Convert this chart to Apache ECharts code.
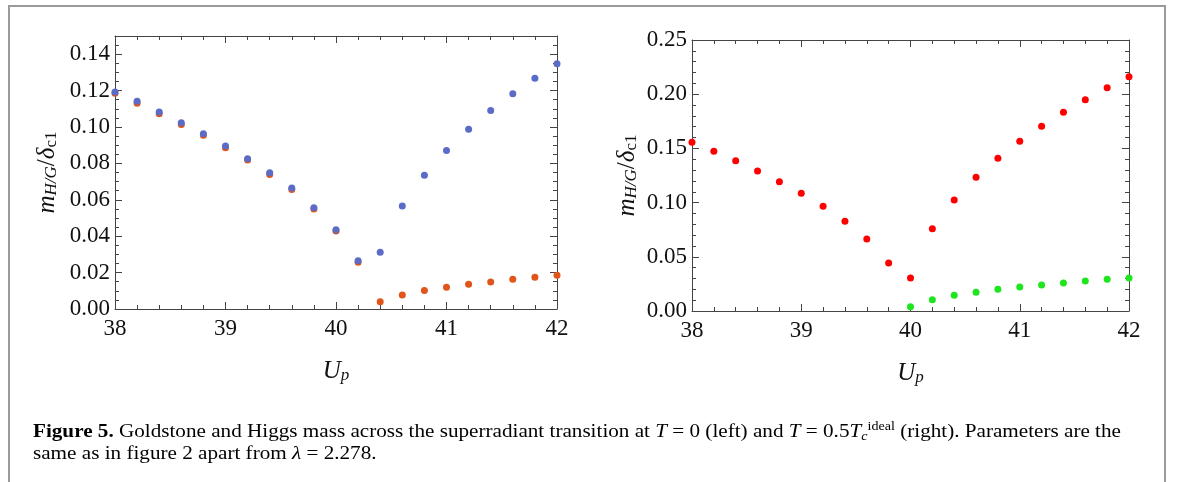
<!DOCTYPE html>
<html>
<head>
<meta charset="utf-8">
<script src="https://cdn.jsdelivr.net/npm/echarts@6/dist/echarts.min.js"></script>
<style>
  html, body { margin: 0; padding: 0; background: #fff; }
  #chart { width: 1182px; height: 482px; }
</style>
</head>
<body>
<div id="chart"></div>
<script>
// U_p values shared by both panels
var upValues = [38.0, 38.2, 38.4, 38.6, 38.8, 39.0, 39.2, 39.4, 39.6, 39.8, 40.0,
                40.2, 40.4, 40.6, 40.8, 41.0, 41.2, 41.4, 41.6, 41.8, 42.0];

// left panel, T = 0
var leftOrange = [0.1185, 0.1130, 0.1073, 0.1014, 0.0954, 0.0886, 0.0818, 0.0739, 0.0656, 0.0549, 0.0428,
                  0.0257, 0.0040, 0.0077, 0.0101, 0.0119, 0.0136, 0.0149, 0.0164, 0.0175, 0.0186];
var leftBlue = [0.1192, 0.1141, 0.1082, 0.1023, 0.0963, 0.0895, 0.0825, 0.0748, 0.0665, 0.0557, 0.0435,
                0.0265, 0.0312, 0.0566, 0.0735, 0.0871, 0.0987, 0.1090, 0.1183, 0.1268, 0.1347];

// right panel, T = 0.5 Tc
var rightRed = [0.1556, 0.1473, 0.1387, 0.1292, 0.1193, 0.1086, 0.0966, 0.0828, 0.0664, 0.0443, 0.0304,
                0.0759, 0.1024, 0.1233, 0.1409, 0.1565, 0.1704, 0.1833, 0.1949, 0.2060, 0.2162];
var greenUp = [40.0, 40.2, 40.4, 40.6, 40.8, 41.0, 41.2, 41.4, 41.6, 41.8, 42.0];
var rightGreen = [0.0040, 0.0104, 0.0145, 0.0172, 0.0200, 0.0221, 0.0240, 0.0258, 0.0277, 0.0292, 0.0304];

var xTicks = [38, 39, 40, 41, 42];
var leftYTicks = [0.00, 0.02, 0.04, 0.06, 0.08, 0.10, 0.12, 0.14];
var rightYTicks = [0.00, 0.05, 0.10, 0.15, 0.20, 0.25];

var serif = '"Liberation Serif", "DejaVu Serif", serif';
var frameColor = '#444';
var labelSize = 23;

function pairs(xs, ys) {
    var out = [];
    for (var i = 0; i < ys.length; i++) out.push([xs[i], ys[i]]);
    return out;
}

function near(v, list) {
    for (var i = 0; i < list.length; i++) {
        if (Math.abs(v - list[i]) < 1e-6) return true;
    }
    return false;
}

// one axis of the frame: major ticks (with or without labels) or minor ticks
function frameAxis(grid, pos, min, max, step, major, labels, tickList, digits) {
    var ax = {
        type: 'value',
        gridIndex: grid,
        position: pos,
        min: min,
        max: max,
        interval: step,
        splitLine: { show: false },
        axisLine: { show: major, onZero: false, lineStyle: { color: frameColor, width: 1 } },
        axisTick: { show: true, inside: true, length: major ? 7 : 4, lineStyle: { color: frameColor, width: 1 } },
        axisLabel: { show: false }
    };
    if (labels) {
        ax.axisLabel = {
            show: true,
            margin: (pos === 'bottom') ? 8 : 5,
            color: '#111',
            fontFamily: serif,
            fontSize: labelSize,
            formatter: function (v) {
                if (!near(v, tickList)) return '';
                return v.toFixed(digits);
            }
        };
    }
    return ax;
}

var xAxes = [];
var yAxes = [];
[0, 1].forEach(function (g) {
    xAxes.push(frameAxis(g, 'bottom', 38, 42, 1, true, true, xTicks, 0));
    xAxes.push(frameAxis(g, 'bottom', 38, 42, 0.2, false, false));
    xAxes.push(frameAxis(g, 'top', 38, 42, 1, true, false));
    xAxes.push(frameAxis(g, 'top', 38, 42, 0.2, false, false));
});
// left panel y
yAxes.push(frameAxis(0, 'left', 0, 0.15, 0.02, true, true, leftYTicks, 2));
yAxes.push(frameAxis(0, 'left', 0, 0.15, 0.005, false, false));
yAxes.push(frameAxis(0, 'right', 0, 0.15, 0.02, true, false));
yAxes.push(frameAxis(0, 'right', 0, 0.15, 0.005, false, false));
// right panel y
yAxes.push(frameAxis(1, 'left', 0, 0.25, 0.05, true, true, rightYTicks, 2));
yAxes.push(frameAxis(1, 'left', 0, 0.25, 0.01, false, false));
yAxes.push(frameAxis(1, 'right', 0, 0.25, 0.05, true, false));
yAxes.push(frameAxis(1, 'right', 0, 0.25, 0.01, false, false));

var xName = '{i|U}{s|p}';
var yName = '{i|m}{s|H/G}{n|/}{i|δ}{sr|c1}';
var mathRich = {
    i: { fontFamily: serif, fontStyle: 'italic', fontSize: 25, lineHeight: 28, verticalAlign: 'bottom', color: '#111' },
    n: { fontFamily: serif, fontSize: 25, lineHeight: 28, verticalAlign: 'bottom', color: '#111' },
    s: { fontFamily: serif, fontStyle: 'italic', fontSize: 17, lineHeight: 8, verticalAlign: 'bottom', color: '#111' },
    sr: { fontFamily: serif, fontSize: 17, lineHeight: 8, verticalAlign: 'bottom', color: '#111' }
};

function nameAxis(ax, gap, rotate) {
    ax.name = (rotate ? yName : xName);
    ax.nameLocation = 'middle';
    ax.nameGap = gap;
    if (rotate) ax.nameRotate = 90;
    ax.nameTextStyle = { rich: mathRich };
}
nameAxis(xAxes[0], 47, false);
nameAxis(xAxes[4], 47, false);
nameAxis(yAxes[0], 55, true);
nameAxis(yAxes[4], 52, true);

function dots(name, color, x, y, xi, yi) {
    return {
        name: name,
        type: 'scatter',
        xAxisIndex: xi,
        yAxisIndex: yi,
        symbol: 'circle',
        symbolSize: 7,
        itemStyle: { color: color, opacity: 1 },
        data: pairs(x, y)
    };
}

var capRich = {
    t: { fontFamily: serif, fontSize: 18, color: '#111', lineHeight: 22 },
    b: { fontFamily: serif, fontSize: 18, fontWeight: 'bold', color: '#111', lineHeight: 22 },
    i: { fontFamily: serif, fontSize: 18, fontStyle: 'italic', color: '#111', lineHeight: 22 },
    sub: { fontFamily: serif, fontSize: 12, fontStyle: 'italic', color: '#111', lineHeight: 10, verticalAlign: 'bottom' },
    sup: { fontFamily: serif, fontSize: 12, color: '#111', lineHeight: 10, verticalAlign: 'top' },
    link: { fontFamily: serif, fontSize: 18, color: '#1f8ad8', lineHeight: 22 }
};

var chart = echarts.init(document.getElementById('chart'));
chart.setOption({
    animation: false,
    backgroundColor: '#fff',
    grid: [
        { left: 115, top: 36, width: 442, height: 273, outerBoundsMode: 'none' },
        { left: 692, top: 40, width: 437, height: 271, outerBoundsMode: 'none' }
    ],
    xAxis: xAxes,
    yAxis: yAxes,
    series: [
        dots('Goldstone', '#e0561a', upValues, leftOrange, 0, 0),
        dots('Higgs', '#5a6cc8', upValues, leftBlue, 0, 0),
        dots('Higgs', '#ff0000', upValues, rightRed, 4, 4),
        dots('Goldstone', '#1ee61e', greenUp, rightGreen, 4, 4)
    ],
    graphic: [
        {
            type: 'polyline',
            shape: { points: [[9, 482], [9, 6], [1165, 6], [1165, 482]] },
            style: { stroke: '#9a9a9a', lineWidth: 2, fill: null },
            silent: true
        },
        {
            type: 'text',
            x: 33,
            y: 421,
            scaleX: 1.175,
            style: {
                text: '{b|Figure 5.}{t| Goldstone and Higgs mass across the superradiant transition at }{i|T}{t| = 0 (left) and }{i|T}{t| = 0.5}{i|T}{sub|c}{sup|ideal}{t| (right). Parameters are the}\n' +
                      '{t|same as in figure }{link|2}{t| apart from }{i|λ}{t| = 2.278.}',
                rich: capRich
            }
        }
    ]
});
</script>
</body>
</html>
